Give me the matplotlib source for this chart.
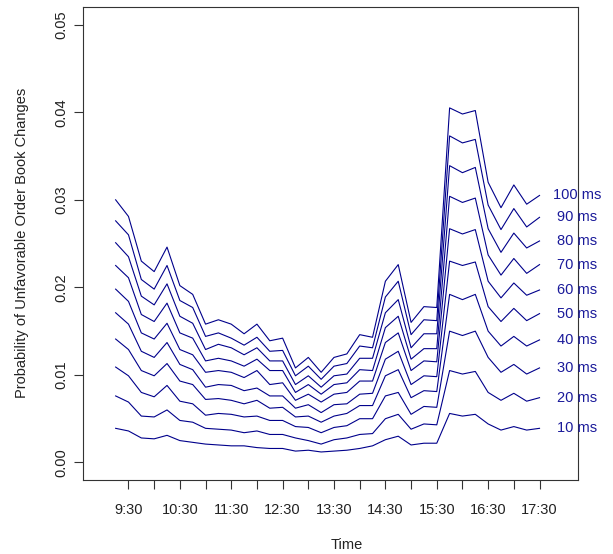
import matplotlib.pyplot as plt

plt.rcParams['font.family'] = ['Liberation Sans', 'DejaVu Sans']

# time of each observation (15 min steps)
times = ["9:15", "9:30", "9:45", "10:00", "10:15", "10:30", "10:45", "11:00",
         "11:15", "11:30", "11:45", "12:00", "12:15", "12:30", "12:45", "13:00",
         "13:15", "13:30", "13:45", "14:00", "14:15", "14:30", "14:45", "15:00",
         "15:15", "15:30", "15:45", "16:00", "16:15", "16:30", "16:45", "17:00",
         "17:15", "17:30"]

p10 = [0.0039, 0.0036, 0.0028, 0.0027, 0.0031, 0.0025, 0.0023, 0.0021, 0.0020, 0.0019,
       0.0019, 0.0017, 0.0016, 0.0016, 0.0013, 0.0014, 0.0012, 0.0013, 0.0014, 0.0016,
       0.0019, 0.0026, 0.0030, 0.0020, 0.0022, 0.0022, 0.0056, 0.0053, 0.0055, 0.0044,
       0.0037, 0.0041, 0.0037, 0.0039]
p20 = [0.0076, 0.0069, 0.0053, 0.0052, 0.0060, 0.0048, 0.0046, 0.0039, 0.0038, 0.0037,
       0.0034, 0.0036, 0.0032, 0.0032, 0.0028, 0.0025, 0.0021, 0.0026, 0.0028, 0.0032,
       0.0033, 0.0050, 0.0055, 0.0038, 0.0044, 0.0043, 0.0105, 0.0101, 0.0104, 0.0080,
       0.0071, 0.0079, 0.0070, 0.0074]
p30 = [0.0109, 0.0099, 0.0080, 0.0075, 0.0088, 0.0070, 0.0067, 0.0054, 0.0056, 0.0055,
       0.0052, 0.0053, 0.0048, 0.0048, 0.0041, 0.0040, 0.0034, 0.0040, 0.0042, 0.0050,
       0.0050, 0.0076, 0.0080, 0.0055, 0.0064, 0.0063, 0.0150, 0.0145, 0.0150, 0.0120,
       0.0103, 0.0112, 0.0101, 0.0108]
p40 = [0.0141, 0.0129, 0.0105, 0.0099, 0.0113, 0.0093, 0.0089, 0.0072, 0.0073, 0.0071,
       0.0067, 0.0071, 0.0062, 0.0063, 0.0052, 0.0053, 0.0046, 0.0053, 0.0056, 0.0065,
       0.0065, 0.0099, 0.0106, 0.0074, 0.0082, 0.0081, 0.0192, 0.0186, 0.0192, 0.0150,
       0.0133, 0.0144, 0.0133, 0.0140]
p50 = [0.0171, 0.0158, 0.0127, 0.0120, 0.0137, 0.0112, 0.0106, 0.0086, 0.0089, 0.0088,
       0.0082, 0.0085, 0.0076, 0.0076, 0.0062, 0.0066, 0.0057, 0.0066, 0.0067, 0.0078,
       0.0079, 0.0118, 0.0127, 0.0089, 0.0099, 0.0098, 0.0230, 0.0225, 0.0229, 0.0178,
       0.0161, 0.0176, 0.0162, 0.0170]
p60 = [0.0198, 0.0184, 0.0148, 0.0141, 0.0159, 0.0129, 0.0123, 0.0103, 0.0105, 0.0103,
       0.0097, 0.0105, 0.0089, 0.0091, 0.0071, 0.0078, 0.0069, 0.0078, 0.0080, 0.0093,
       0.0093, 0.0137, 0.0148, 0.0105, 0.0116, 0.0115, 0.0267, 0.0261, 0.0266, 0.0207,
       0.0188, 0.0205, 0.0191, 0.0197]
p70 = [0.0225, 0.0211, 0.0169, 0.0161, 0.0182, 0.0148, 0.0142, 0.0116, 0.0119, 0.0116,
       0.0110, 0.0118, 0.0105, 0.0105, 0.0080, 0.0089, 0.0078, 0.0089, 0.0091, 0.0106,
       0.0105, 0.0154, 0.0167, 0.0118, 0.0130, 0.0130, 0.0304, 0.0297, 0.0302, 0.0237,
       0.0214, 0.0233, 0.0216, 0.0226]
p80 = [0.0251, 0.0235, 0.0190, 0.0180, 0.0204, 0.0167, 0.0159, 0.0129, 0.0135, 0.0131,
       0.0123, 0.0131, 0.0116, 0.0116, 0.0089, 0.0099, 0.0086, 0.0099, 0.0101, 0.0119,
       0.0119, 0.0171, 0.0186, 0.0131, 0.0147, 0.0147, 0.0339, 0.0331, 0.0337, 0.0267,
       0.0240, 0.0262, 0.0245, 0.0253]
p90 = [0.0276, 0.0260, 0.0209, 0.0198, 0.0225, 0.0185, 0.0177, 0.0144, 0.0148, 0.0142,
       0.0134, 0.0143, 0.0127, 0.0128, 0.0099, 0.0110, 0.0095, 0.0110, 0.0113, 0.0133,
       0.0131, 0.0189, 0.0207, 0.0146, 0.0163, 0.0162, 0.0373, 0.0365, 0.0369, 0.0294,
       0.0266, 0.0290, 0.0269, 0.0280]
p100 = [0.0300, 0.0281, 0.0230, 0.0218, 0.0246, 0.0202, 0.0192, 0.0158, 0.0163, 0.0158,
        0.0147, 0.0158, 0.0139, 0.0142, 0.0108, 0.0120, 0.0103, 0.0120, 0.0124, 0.0146,
        0.0143, 0.0207, 0.0226, 0.0160, 0.0178, 0.0177, 0.0405, 0.0398, 0.0402, 0.0320,
        0.0291, 0.0317, 0.0295, 0.0305]

series = [p10, p20, p30, p40, p50, p60, p70, p80, p90, p100]
labels = ["10 ms", "20 ms", "30 ms", "40 ms", "50 ms",
          "60 ms", "70 ms", "80 ms", "90 ms", "100 ms"]

tick_names = ["9:30", "10:30", "11:30", "12:30", "13:30", "14:30", "15:30", "16:30", "17:30"]

hours = [int(t.split(":")[0]) + int(t.split(":")[1]) / 60 for t in times]

line_col = "#00008B"
text_col = "#222222"

fig = plt.figure(figsize=(6.13, 5.54), dpi=100)
ax = fig.add_axes([0.135, 0.1336, 0.808, 0.8534])

for vals, lab in zip(series, labels):
    ax.plot(hours, vals, color=line_col, lw=0.8)
    ax.text(18.23, vals[-1], lab, color="#1a1a9a", ha="center", va="center", fontsize=10.5)

ax.set_xlim(8.61, 18.25)
ax.set_ylim(-0.002, 0.052)

# ticks every half hour, labels on the hour-and-a-half
xt = [9.5 + 0.5 * i for i in range(17)]
xl = []
for i in range(17):
    xl.append(tick_names[i // 2] if i % 2 == 0 else "")
ax.set_xticks(xt)
ax.set_xticklabels(xl)

yt = [0.0, 0.01, 0.02, 0.03, 0.04, 0.05]
ax.set_yticks(yt)
ax.set_yticklabels(["%.2f" % v for v in yt], rotation=90, va="center")

ax.tick_params(axis="x", direction="out", length=6.5, width=0.8, pad=10,
               labelsize=10.5, colors="#333333", labelcolor=text_col)
ax.tick_params(axis="y", direction="out", length=6.5, width=0.8, pad=4,
               labelsize=10.5, colors="#333333", labelcolor=text_col)

for s in ax.spines.values():
    s.set_color("#333333")
    s.set_linewidth(0.8)

fig.text(347 / 613, 1 - 545 / 554, "Time", ha="center", va="center",
         fontsize=10.5, color=text_col)
fig.text(22 / 613, 1 - 243 / 554, "Probability of Unfavorable Order Book Changes",
         ha="center", va="center", rotation=90, fontsize=10.5, color=text_col)

fig.savefig("out.png", dpi=100)
